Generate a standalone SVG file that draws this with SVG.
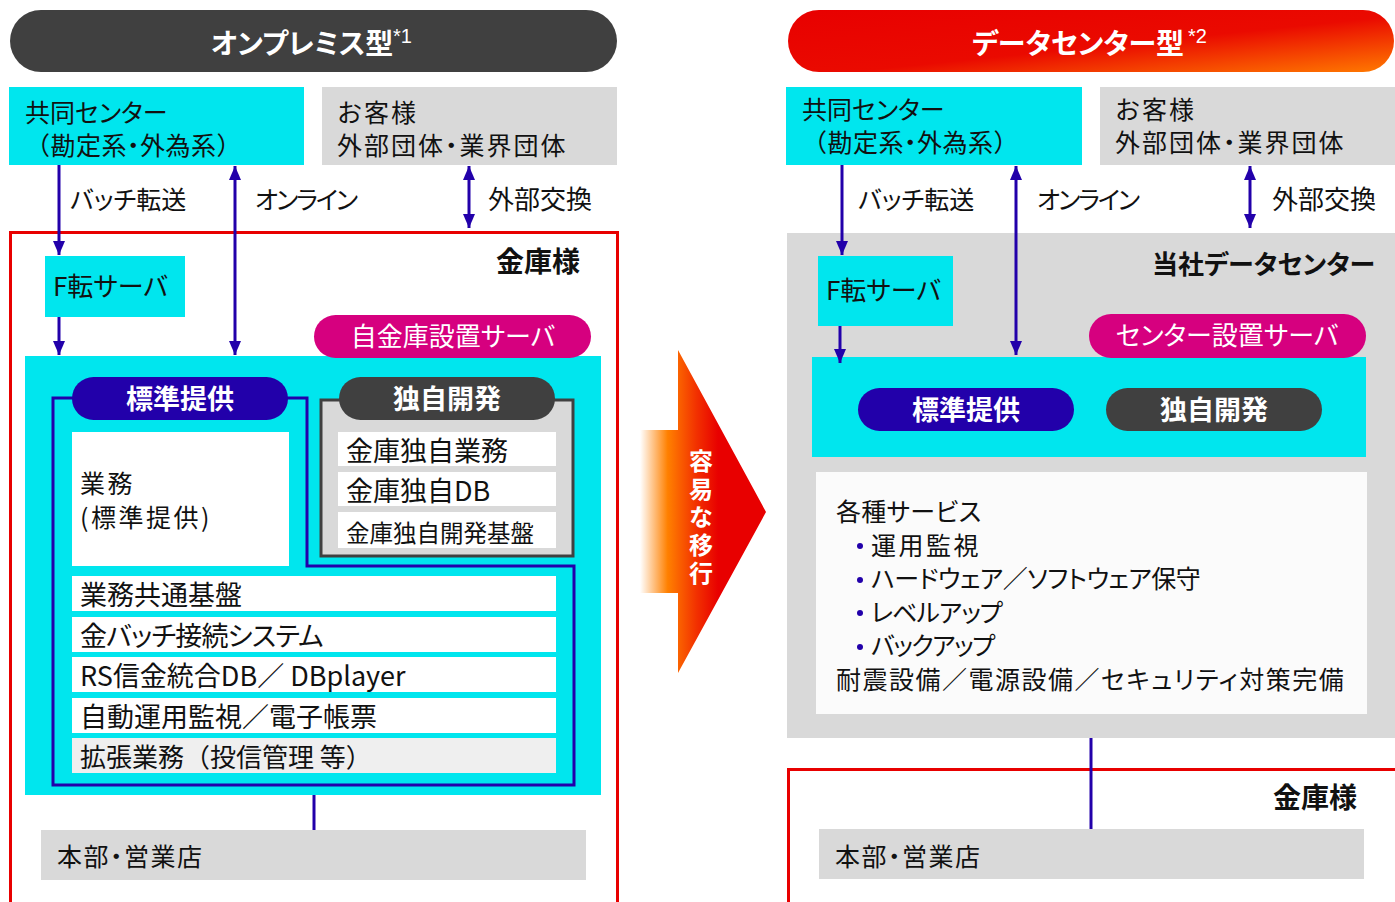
<svg xmlns="http://www.w3.org/2000/svg" width="1395" height="902" viewBox="0 0 1395 902">
<style>
text{font-family:"Noto Sans CJK JP","Noto Sans",sans-serif;fill:#111;}
.p{font-feature-settings:"palt";}
.t25{font-size:25px}
.t26{font-size:26px}
.t27{font-size:27px}
.b{font-weight:bold}
.w{fill:#fff}
.cy{fill:#00E6EE}
.gr{fill:#D9D9D9}
.wh{fill:#fff}
.conn line{stroke:#2200AA;stroke-width:3}
.sup{font-family:"Liberation Sans",Arial,sans-serif;font-size:20px;fill:#fff}
</style>
<defs>
<marker id="ah" viewBox="0 0 14 12" refX="14" refY="6" markerWidth="14" markerHeight="12" markerUnits="userSpaceOnUse" orient="auto-start-reverse">
<path d="M0,0 L14,6 L0,12 Z" fill="#2200AA"/>
</marker>
<linearGradient id="redg" x1="0" y1="0" x2="1" y2="1">
<stop offset="0" stop-color="#E80000"/>
<stop offset="0.55" stop-color="#EA0A00"/>
<stop offset="1" stop-color="#FF7A00"/>
</linearGradient>
<linearGradient id="arrg" gradientUnits="userSpaceOnUse" x1="640" y1="0" x2="766" y2="0">
<stop offset="0" stop-color="#FFFFFF"/>
<stop offset="0.22" stop-color="#FF8000"/>
<stop offset="0.45" stop-color="#F23000"/>
<stop offset="0.62" stop-color="#E80000"/>
<stop offset="1" stop-color="#E80000"/>
</linearGradient>
</defs>

<!-- LEFT -->
<g id="title-left">
<rect x="10" y="10" width="607" height="62" rx="31" fill="#404040"/>
<text x="302" y="54" text-anchor="middle" class="w b p" style="font-size:28px">オンプレミス型</text>
<text x="393" y="43" class="sup">*1</text>
</g>
<g id="kyodo-left">
<rect x="9" y="87" width="295" height="78" class="cy"/>
<text x="25" y="122" class="t25 p">共同センター</text>
<text x="25" y="155" class="t25" letter-spacing="0.5">（勘定系<tspan class="p">・</tspan>外為系）</text>
</g>
<g id="kyaku-left">
<rect x="322" y="87" width="295" height="78" class="gr"/>
<text x="337" y="122" class="t25" letter-spacing="2">お客様</text>
<text x="337" y="155" class="t25" letter-spacing="2">外部団体<tspan class="p">・</tspan>業界団体</text>
</g>
<g id="kinko-left">
<rect x="10.5" y="232.5" width="607" height="680" fill="none" stroke="#E80000" stroke-width="3"/>
<text x="580" y="272" text-anchor="end" class="b" style="font-size:28px">金庫様</text>
</g>
<g id="ften-left">
<rect x="45" y="256" width="140" height="61" class="cy"/>
<text x="53" y="296" class="t26 p">F転サーバ</text>
</g>
<g id="server-left">
<rect x="25" y="356" width="576" height="439" class="cy"/>
<rect x="314" y="315" width="277" height="43" rx="21.5" fill="#D6007F"/>
<text x="453" y="346" text-anchor="middle" class="w t26 p">自金庫設置サーバ</text>
</g>
<g id="hyojun-left">
<path d="M53,398 H307 V566 H574 V785 H53 Z" fill="none" stroke="#2200AA" stroke-width="3"/>
<rect x="72" y="377" width="216" height="43" rx="21.5" fill="#2200AA"/>
<text x="180" y="409" text-anchor="middle" class="w b t27">標準提供</text>
<rect x="72" y="432" width="217" height="134" class="wh"/>
<text x="80" y="493" class="t25 p" letter-spacing="2.5">業務</text>
<text x="80" y="527" class="t25 p" letter-spacing="2.5">(標準提供)</text>
</g>
<g id="dokuji-left">
<rect x="321" y="400" width="252" height="156" fill="#D9D9D9" stroke="#404040" stroke-width="3"/>
<rect x="339" y="377" width="216" height="43" rx="21.5" fill="#404040"/>
<text x="447" y="409" text-anchor="middle" class="w b t27">独自開発</text>
<rect x="338" y="432" width="218" height="34" class="wh"/>
<text x="346" y="461" class="t27 p">金庫独自業務</text>
<rect x="338" y="472" width="218" height="34" class="wh"/>
<text x="346" y="501" class="t27 p">金庫独自DB</text>
<rect x="338" y="512" width="218" height="36" class="wh"/>
<text x="346" y="542" class="p" style="font-size:23.5px">金庫独自開発基盤</text>
</g>
<g id="rows-left">
<rect x="72" y="576" width="484" height="35" class="wh"/>
<text x="80" y="605" class="t27 p">業務共通基盤</text>
<rect x="72" y="617" width="484" height="35" class="wh"/>
<text x="80" y="646" class="t27 p" letter-spacing="-0.8">金バッチ接続システム</text>
<rect x="72" y="657" width="484" height="35" class="wh"/>
<text x="80" y="686" class="t27 p">RS信金統合DB／ DBplayer</text>
<rect x="72" y="698" width="484" height="35" class="wh"/>
<text x="80" y="727" class="t27 p">自動運用監視／電子帳票</text>
<rect x="72" y="738" width="484" height="35" fill="#EFEFEF"/>
<text x="80" y="767" class="t26">拡張業務（投信管理 等）</text>
</g>
<g id="honbu-left">
<rect x="41" y="830" width="545" height="50" class="gr"/>
<text x="57" y="866" class="t25" letter-spacing="1.5">本部<tspan class="p">・</tspan>営業店</text>
</g>

<!-- MIDDLE ARROW -->
<g id="migrate">
<path d="M640,430 H678 V350 L766,512 L678,673 V593 H640 Z" fill="url(#arrg)"/>
<text x="701" y="449" class="w b" style="font-size:24px;writing-mode:vertical-rl;letter-spacing:4px">容易な移行</text>
</g>

<!-- RIGHT -->
<g id="title-right">
<rect x="788" y="10" width="606" height="62" rx="31" fill="url(#redg)"/>
<text x="1078" y="54" text-anchor="middle" class="w b p" style="font-size:28px">データセンター型</text>
<text x="1188" y="43" class="sup">*2</text>
</g>
<g id="kyodo-right">
<rect x="786" y="87" width="296" height="78" class="cy"/>
<text x="802" y="119" class="t25 p">共同センター</text>
<text x="802" y="152" class="t25" letter-spacing="0.5">（勘定系<tspan class="p">・</tspan>外為系）</text>
</g>
<g id="kyaku-right">
<rect x="1100" y="87" width="295" height="78" class="gr"/>
<text x="1115" y="119" class="t25" letter-spacing="2">お客様</text>
<text x="1115" y="152" class="t25" letter-spacing="2">外部団体<tspan class="p">・</tspan>業界団体</text>
</g>
<g id="dc-right">
<rect x="787" y="233" width="608" height="505" class="gr"/>
<text x="1375" y="274" text-anchor="end" class="b p" style="font-size:26px">当社データセンター</text>
</g>
<g id="ften-right">
<rect x="818" y="256" width="135" height="70" class="cy"/>
<text x="826" y="300" class="t26 p">F転サーバ</text>
</g>
<g id="server-right">
<rect x="812" y="357" width="554" height="100" class="cy"/>
<rect x="1089" y="314" width="277" height="44" rx="22" fill="#D6007F"/>
<text x="1227" y="345" text-anchor="middle" class="w t26 p">センター設置サーバ</text>
<rect x="858" y="388" width="216" height="43" rx="21.5" fill="#2200AA"/>
<text x="966" y="420" text-anchor="middle" class="w b t27">標準提供</text>
<rect x="1106" y="388" width="216" height="43" rx="21.5" fill="#404040"/>
<text x="1214" y="420" text-anchor="middle" class="w b t27">独自開発</text>
</g>
<g id="services-right">
<rect x="816" y="472" width="551" height="242" fill="#FBFBFB"/>
<text x="836" y="521" class="t25 p" letter-spacing="0.3">各種サービス</text>
<circle cx="860" cy="546" r="3" fill="#2200AA"/>
<text x="871" y="555" class="t25 p" letter-spacing="2.5">運用監視</text>
<circle cx="860" cy="580" r="3" fill="#2200AA"/>
<text x="871" y="588" class="t25 p" letter-spacing="-0.5">ハードウェア／ソフトウェア保守</text>
<circle cx="860" cy="613" r="3" fill="#2200AA"/>
<text x="871" y="622" class="t25 p" letter-spacing="-1">レベルアップ</text>
<circle cx="860" cy="647" r="3" fill="#2200AA"/>
<text x="871" y="655" class="t25 p" letter-spacing="-1.5">バックアップ</text>
<text x="836" y="689" class="t25 p" letter-spacing="1.5">耐震設備／電源設備／セキュリティ対策完備</text>
</g>
<g id="kinko-right">
<rect x="788.5" y="769.5" width="620" height="150" fill="none" stroke="#E80000" stroke-width="3"/>
<text x="1357" y="808" text-anchor="end" class="b" style="font-size:28px">金庫様</text>
</g>
<g id="honbu-right">
<rect x="819" y="829" width="545" height="50" class="gr"/>
<text x="835" y="866" class="t25" letter-spacing="1.5">本部<tspan class="p">・</tspan>営業店</text>
</g>

<g id="connectors" class="conn">
<line x1="59" y1="165" x2="59" y2="255" marker-end="url(#ah)"/>
<line x1="235" y1="166" x2="235" y2="355" marker-start="url(#ah)" marker-end="url(#ah)"/>
<line x1="469" y1="166" x2="469" y2="228" marker-start="url(#ah)" marker-end="url(#ah)"/>
<line x1="59" y1="317" x2="59" y2="355" marker-end="url(#ah)"/>
<line x1="314" y1="795" x2="314" y2="830"/>
<line x1="842" y1="165" x2="842" y2="255" marker-end="url(#ah)"/>
<line x1="1016" y1="166" x2="1016" y2="355" marker-start="url(#ah)" marker-end="url(#ah)"/>
<line x1="1250" y1="166" x2="1250" y2="228" marker-start="url(#ah)" marker-end="url(#ah)"/>
<line x1="840" y1="326" x2="840" y2="363" marker-end="url(#ah)"/>
<line x1="1091" y1="738" x2="1091" y2="829"/>
</g>
<g id="labels">
<text x="70" y="209" class="t25 p">バッチ転送</text>
<text x="255" y="209" class="t25 p" letter-spacing="-2">オンライン</text>
<text x="488" y="209" class="t26">外部交換</text>
<text x="858" y="209" class="t25 p">バッチ転送</text>
<text x="1037" y="209" class="t25 p" letter-spacing="-2">オンライン</text>
<text x="1272" y="209" class="t26">外部交換</text>
</g>
</svg>
